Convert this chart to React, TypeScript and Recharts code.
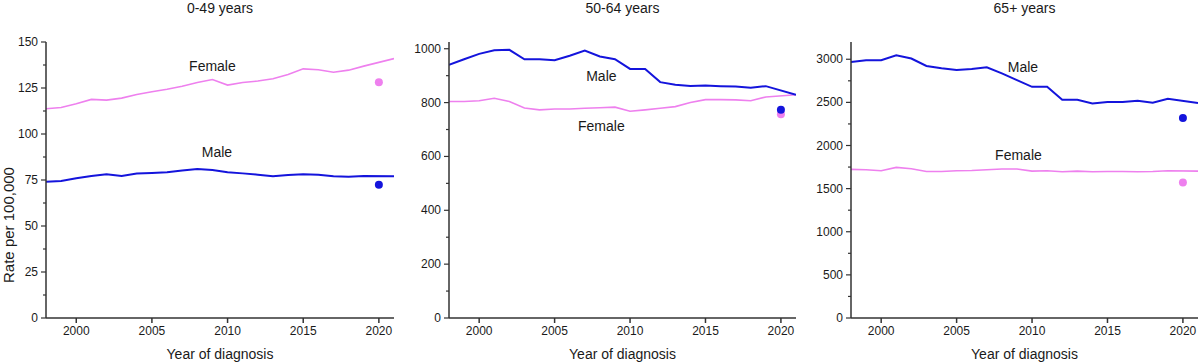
import React from "react";
import { LineChart, Line, XAxis, YAxis, ReferenceDot } from "recharts";

const years = [1998, 1999, 2000, 2001, 2002, 2003, 2004, 2005, 2006, 2007, 2008, 2009, 2010, 2011, 2012, 2013, 2014, 2015, 2016, 2017, 2018, 2019, 2020, 2021];

// 0-49 years (2020 excluded from trend line, shown as separate dot)
const female049 = [113.7, 114.4, 116.4, 118.8, 118.4, 119.5, 121.5, 123, 124.3, 126, 128, 129.6, 126.6, 128, 128.8, 130, 132.3, 135.4, 134.9, 133.6, 134.7, 136.9, null, 141];
const male049 = [74, 74.5, 75.9, 77.2, 78.1, 77.2, 78.5, 78.8, 79.2, 80.1, 81, 80.4, 79.2, 78.6, 77.9, 77, 77.7, 78.1, 77.9, 77, 76.8, 77.2, null, 77];
const female049y2020 = 128.1;
const male049y2020 = 72.4;

// 50-64 years
const female5064 = [804, 804, 807, 816, 804, 780, 773, 776, 776, 779, 781, 783, 768, 773, 779, 785, 800, 811, 811, 810, 807, 821, null, 829];
const male5064 = [940, 961, 981, 994, 996, 961, 961, 957, 974, 993, 971, 961, 925, 925, 876, 866, 862, 863, 861, 860, 855, 861, null, 829];
const female5064y2020 = 757;
const male5064y2020 = 773;

// 65+ years
const female65 = [1723, 1719, 1707, 1746, 1730, 1699, 1699, 1707, 1711, 1719, 1727, 1727, 1703, 1707, 1695, 1703, 1695, 1699, 1699, 1695, 1699, 1707, null, 1703];
const male65 = [2969, 2988, 2988, 3047, 3008, 2922, 2895, 2875, 2887, 2906, 2836, 2758, 2680, 2680, 2531, 2531, 2488, 2504, 2504, 2520, 2496, 2543, null, 2492];
const female65y2020 = 1570;
const male65y2020 = 2320;

const xTicks = [2000, 2005, 2010, 2015, 2020];
const yTicks049 = [0, 12.5, 25, 37.5, 50, 62.5, 75, 87.5, 100, 112.5, 125, 137.5, 150];
const yMajor049 = [0, 25, 50, 75, 100, 125, 150];
const yTicks5064 = [0, 100, 200, 300, 400, 500, 600, 700, 800, 900, 1000];
const yMajor5064 = [0, 200, 400, 600, 800, 1000];
const yTicks65 = [0, 250, 500, 750, 1000, 1250, 1500, 1750, 2000, 2250, 2500, 2750, 3000];
const yMajor65 = [0, 500, 1000, 1500, 2000, 2500, 3000];

const titles = ["0-49 years", "50-64 years", "65+ years"];

const BLUE = "#1414dc";
const PINK = "#ee80ee";
const AXIS = "#333";
const TEXT = "#1a1a1a";
const FONT = "'Liberation Sans', Arial, sans-serif";

function buildData(fem: (number | null)[], mal: (number | null)[], f20: number, m20: number) {
  return years.map((y, i) => ({
    year: y,
    female: fem[i],
    male: mal[i],
    fDot: y === 2020 ? f20 : null,
    mDot: y === 2020 ? m20 : null,
  }));
}

const makeYTick = (majors: number[]) => (props: any) => {
  const { x, y, payload } = props;
  const isMajor = majors.includes(payload.value);
  return (
    <g>
      <line x1={x - (isMajor ? 5 : 3)} x2={x} y1={y} y2={y} stroke={AXIS} strokeWidth={1.2} />
      {isMajor && (
        <text x={x - 8} y={y} dy={4} textAnchor="end" fontSize={12} fill={TEXT} fontFamily={FONT}>
          {payload.value}
        </text>
      )}
    </g>
  );
};

type PanelProps = {
  left: number;
  yWidth: number;
  rightMargin: number;
  data: any[];
  yMax: number;
  yTicks: number[];
  yMajor: number[];
  title: string;
  maleLabel: [number, number];
  femaleLabel: [number, number];
};

function Panel(p: PanelProps) {
  const W = 400;
  const H = 364;
  const plotLeft = p.yWidth;
  const plotRight = W - p.rightMargin;
  const center = (plotLeft + plotRight) / 2;
  return (
    <div style={{ position: "absolute", left: p.left, top: 0, width: W, height: H }}>
      <div
        style={{
          position: "absolute",
          left: center - 100,
          width: 200,
          top: 0,
          textAlign: "center",
          fontFamily: FONT,
          fontSize: 14,
          color: TEXT,
          lineHeight: "17px",
        }}
      >
        {p.title}
      </div>
      <LineChart width={W} height={H} data={p.data} margin={{ top: 42, right: p.rightMargin, bottom: 0, left: 0 }}>
        <XAxis
          dataKey="year"
          type="number"
          domain={[1998, 2021]}
          ticks={xTicks}
          allowDataOverflow
          stroke={AXIS}
          strokeWidth={1.5}
          tickSize={5}
          tickMargin={3}
          height={46}
          tick={{ fontSize: 12, fill: TEXT, fontFamily: FONT }}
        />
        <YAxis
          type="number"
          domain={[0, p.yMax]}
          ticks={p.yTicks}
          interval={0}
          allowDataOverflow
          width={p.yWidth}
          stroke={AXIS}
          strokeWidth={1.5}
          tickSize={0}
          tickMargin={0}
          tickLine={false}
          tick={makeYTick(p.yMajor)}
        />
        <Line
          dataKey="female"
          stroke={PINK}
          strokeWidth={1.6}
          dot={false}
          connectNulls
          isAnimationActive={false}
          type="linear"
        />
        <Line
          dataKey="male"
          stroke={BLUE}
          strokeWidth={2}
          dot={false}
          connectNulls
          isAnimationActive={false}
          type="linear"
        />
        <Line
          dataKey="fDot"
          stroke="none"
          dot={{ r: 4, fill: PINK, stroke: PINK, strokeWidth: 0 }}
          isAnimationActive={false}
        />
        <Line
          dataKey="mDot"
          stroke="none"
          dot={{ r: 4, fill: BLUE, stroke: BLUE, strokeWidth: 0 }}
          isAnimationActive={false}
        />
        <ReferenceDot
          x={p.femaleLabel[0]}
          y={p.femaleLabel[1]}
          r={0}
          stroke="none"
          fill="none"
          label={{ value: "Female", position: "center", fontSize: 14, fill: TEXT, fontFamily: FONT }}
        />
        <ReferenceDot
          x={p.maleLabel[0]}
          y={p.maleLabel[1]}
          r={0}
          stroke="none"
          fill="none"
          label={{ value: "Male", position: "center", fontSize: 14, fill: TEXT, fontFamily: FONT }}
        />
      </LineChart>
      <div
        style={{
          position: "absolute",
          left: center - 100,
          width: 200,
          top: 346,
          textAlign: "center",
          fontFamily: FONT,
          fontSize: 14,
          color: TEXT,
          lineHeight: "17px",
        }}
      >
        Year of diagnosis
      </div>
    </div>
  );
}

export default function App() {
  return (
    <div style={{ position: "absolute", left: 0, top: 0, width: 1200, height: 364, background: "#fff", overflow: "hidden" }}>
      <Panel
        left={0}
        yWidth={46}
        rightMargin={6}
        data={buildData(female049, male049, female049y2020, male049y2020)}
        yMax={150}
        yTicks={yTicks049}
        yMajor={yMajor049}
        title={titles[0]}
        femaleLabel={[2009, 137]}
        maleLabel={[2009.3, 90]}
      />
      <Panel
        left={400}
        yWidth={49}
        rightMargin={4}
        data={buildData(female5064, male5064, female5064y2020, male5064y2020)}
        yMax={1025}
        yTicks={yTicks5064}
        yMajor={yMajor5064}
        title={titles[1]}
        femaleLabel={[2008.1, 712]}
        maleLabel={[2008.1, 898]}
      />
      <Panel
        left={800}
        yWidth={51}
        rightMargin={2}
        data={buildData(female65, male65, female65y2020, male65y2020)}
        yMax={3200}
        yTicks={yTicks65}
        yMajor={yMajor65}
        title={titles[2]}
        femaleLabel={[2009.1, 1895]}
        maleLabel={[2009.4, 2907]}
      />
      <div
        style={{
          position: "absolute",
          left: 9 - 80,
          top: 225 - 9,
          width: 160,
          textAlign: "center",
          transform: "rotate(-90deg)",
          fontFamily: FONT,
          fontSize: 15,
          color: TEXT,
          lineHeight: "18px",
        }}
      >
        Rate per 100,000
      </div>
    </div>
  );
}
